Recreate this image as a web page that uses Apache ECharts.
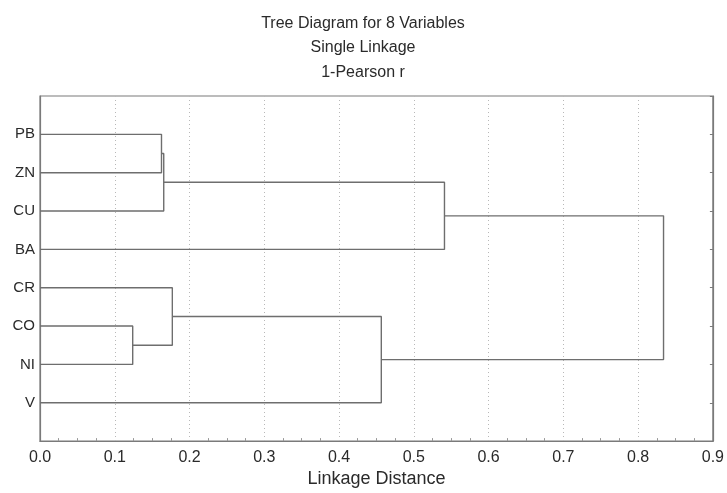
<!DOCTYPE html>
<html><head><meta charset="utf-8">
<script src="https://cdn.jsdelivr.net/npm/echarts@6/dist/echarts.min.js"></script>
<style>html,body{margin:0;padding:0;background:#fff}#c{width:727px;height:493px}</style>
</head><body><div id="c"></div>
<script>
// Leaves from top to bottom
const leaves = ['PB', 'ZN', 'CU', 'BA', 'CR', 'CO', 'NI', 'V'];
// Linkage steps: [clusterA, clusterB, distance]; indices >= leaves.length refer to earlier merges
const mergeA = [5, 0, 9, 4, 11, 10, 13];
const mergeB = [6, 1, 2, 8, 7, 3, 12];
const mergeDist = [0.124, 0.1625, 0.1655, 0.177, 0.4565, 0.541, 0.834];
const xTicks = ['0.0','0.1','0.2','0.3','0.4','0.5','0.6','0.7','0.8','0.9'];

const nodeX = leaves.map(() => 0);
const nodeY = leaves.map((_, i) => i + 1);
const series = [];
for (let k = 0; k < mergeDist.length; k++) {
  const a = mergeA[k], b = mergeB[k], d = mergeDist[k];
  series.push({
    type: 'line', silent: true, symbol: 'none', animation: false,
    lineStyle: { color: '#6e6e6e', width: 1.4 },
    data: [[nodeX[a], nodeY[a]], [d, nodeY[a]], [d, nodeY[b]], [nodeX[b], nodeY[b]]]
  });
  nodeX.push(d);
  nodeY.push((nodeY[a] + nodeY[b]) / 2);
}

const font = 'Liberation Sans, Arial, sans-serif';
const chart = echarts.init(document.getElementById('c'), null, { renderer: 'canvas' });
chart.setOption({
  animation: false,
  title: {
    text: 'Tree Diagram for 8 Variables\nSingle Linkage\n1-Pearson r',
    left: 358, top: 6, textAlign: 'center',
    textStyle: { fontFamily: font, fontSize: 16, fontWeight: 'normal', color: '#2a2a2a', lineHeight: 24.5 }
  },
  grid: { left: 40, top: 96, width: 675, height: 352, show: true, borderColor: '#7a7a7a', borderWidth: 1.2 },
  xAxis: {
    type: 'value', min: 0, max: 0.9, interval: 0.1, position: 'bottom',
    name: 'Linkage Distance', nameLocation: 'middle', nameGap: 26,
    nameTextStyle: { fontFamily: font, fontSize: 18, color: '#2a2a2a' },
    axisLine: { show: true, onZero: false, lineStyle: { color: '#7a7a7a', width: 1.2 } },
    axisTick: { show: false, inside: true },
    minorTick: { show: true, splitNumber: 4, length: 3, lineStyle: { color: '#999' } },
    axisLabel: { fontFamily: font, fontSize: 16, color: '#2a2a2a', margin: 8,
      formatter: (v) => xTicks[Math.round(v * 10)] },
    splitLine: { show: true, lineStyle: { color: '#b8b8b8', type: [1, 3], width: 1 } }
  },
  yAxis: [{
    type: 'value', min: 0, max: 9, interval: 1, inverse: true,
    axisLine: { show: true, onZero: false, lineStyle: { color: '#7a7a7a', width: 1.2 } },
    axisTick: { show: false },
    axisLabel: { fontFamily: font, fontSize: 15, color: '#2a2a2a', margin: 5,
      formatter: (v) => leaves[v - 1] || '' },
    splitLine: { show: false }
  }, {
    type: 'value', min: 0, max: 9, interval: 1, inverse: true, position: 'right',
    axisLine: { show: true, onZero: false, lineStyle: { color: '#7a7a7a', width: 1.2 } },
    axisTick: { show: true, inside: true, length: 3, lineStyle: { color: '#7a7a7a' } },
    axisLabel: { show: false },
    splitLine: { show: false }
  }],
  series: series
});
</script></body></html>
